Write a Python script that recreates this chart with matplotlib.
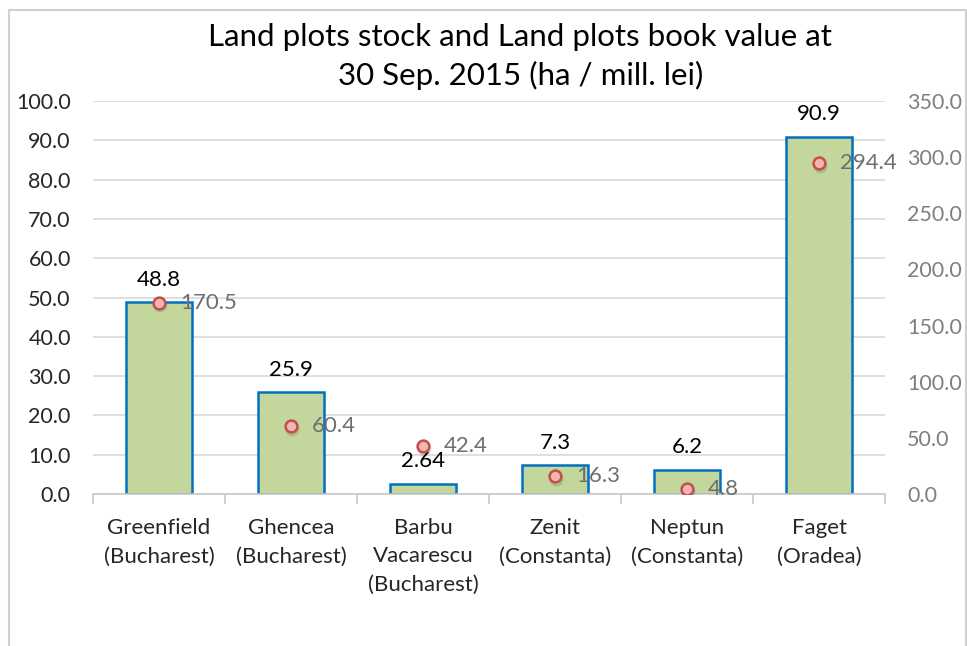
import matplotlib.pyplot as plt
from matplotlib.patches import Rectangle
import numpy as np

categories = ["Greenfield\n(Bucharest)", "Ghencea\n(Bucharest)", "Barbu\nVacarescu\n(Bucharest)",
              "Zenit\n(Constanta)", "Neptun\n(Constanta)", "Faget\n(Oradea)"]
stock_ha = [48.8, 25.9, 2.64, 7.3, 6.2, 90.9]
stock_labels = ["48.8", "25.9", "2.64", "7.3", "6.2", "90.9"]
book_value = [170.5, 60.4, 42.4, 16.3, 4.8, 294.4]
left_ticks = [0, 10, 20, 30, 40, 50, 60, 70, 80, 90, 100]
right_ticks = [0, 50, 100, 150, 200, 250, 300, 350]

plt.rcParams['font.family'] = ['Lato', 'DejaVu Sans']

fig = plt.figure(figsize=(9.67, 6.46), dpi=100)
# chart border
fig.patches.append(Rectangle((9 / 967, -0.01), (966 - 9) / 967, 1 - 10 / 646 + 0.01,
                             transform=fig.transFigure, fill=False,
                             edgecolor='#D0D0D0', linewidth=1.5))

ax = fig.add_axes([93 / 967, 1 - 494 / 646, (885 - 93) / 967, (494 - 101) / 646])
x = np.arange(len(categories))

ax.bar(x, stock_ha, width=0.5, color='#C3D69B', edgecolor='#0070C0', linewidth=1.8, zorder=2)
for xi, v, lab in zip(x, stock_ha, stock_labels):
    ax.annotate(lab, (xi, v), xytext=(0, 9), textcoords='offset points',
                ha='center', va='bottom', fontsize=16, color='#000000', zorder=5)

ax.set_xlim(-0.5, len(categories) - 0.5)
ax.set_ylim(0, 100)
ax.set_yticks(left_ticks)
ax.set_yticklabels([f"{t:.1f}" for t in left_ticks], fontsize=15.5, color='#262626')
ax.grid(axis='y', color='#D9D9D9', linewidth=1.2, zorder=0)
ax.set_axisbelow(True)
ax.set_xticks(x)
ax.set_xticklabels(categories, fontsize=16, color='#262626', linespacing=1.55)
ax.set_xticks(np.arange(-0.5, len(categories)), minor=True)
ax.tick_params(axis='x', which='major', length=0, pad=17)
ax.tick_params(axis='x', which='minor', length=7, color='#C8C8C8', width=1.2)
ax.tick_params(axis='y', length=0, pad=16)
for s in ['top', 'right', 'left']:
    ax.spines[s].set_visible(False)
ax.spines['bottom'].set_color('#C8C8C8')
ax.spines['bottom'].set_linewidth(1.2)

ax2 = ax.twinx()
ax2.set_ylim(0, 350)
ax2.set_yticks(right_ticks)
ax2.set_yticklabels([f"{t:.1f}" for t in right_ticks], fontsize=15.5, color='#7F7F7F')
ax2.tick_params(axis='y', length=0, pad=16)
for s in ax2.spines.values():
    s.set_visible(False)
# soft shadow, then the markers
ax2.plot(x + 0.01, np.array(book_value) - 2.5, 'o', markersize=10, color='#000000', alpha=0.12,
         markeredgewidth=0, zorder=3)
ax2.plot(x, book_value, 'o', markersize=8.5, markerfacecolor='#F4B4B0', markeredgecolor='#C0504D',
         markeredgewidth=1.8, linestyle='none', zorder=4)
for xi, v in zip(x, book_value):
    ax2.annotate(f"{v:.1f}", (xi, v), xytext=(15, 0), textcoords='offset points',
                 ha='left', va='center', fontsize=16, color='#6E6E6E', zorder=5)

fig.text(0.538, 0.912, "Land plots stock and Land plots book value at\n30 Sep. 2015 (ha / mill. lei)",
         ha='center', va='center', fontsize=22.5, color='#000000', linespacing=1.4)

fig.savefig("out.png", dpi=100, facecolor='white')
